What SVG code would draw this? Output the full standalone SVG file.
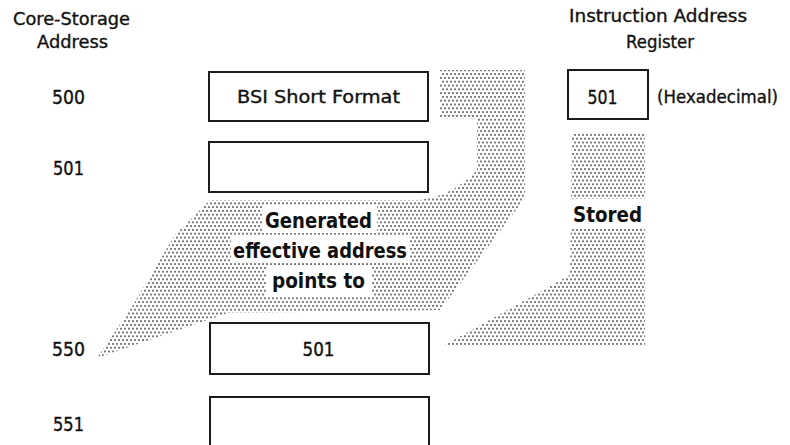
<svg xmlns="http://www.w3.org/2000/svg" width="790" height="445" viewBox="0 0 790 445">
<defs>
<pattern id="dots" patternUnits="userSpaceOnUse" width="4" height="7.6">
<rect x="0.3" y="1.2" width="1.4" height="1.4" fill="#000"/>
<rect x="2.3" y="5" width="1.4" height="1.4" fill="#000"/>
</pattern>
</defs>
<style>
.t{font-family:"DejaVu Sans","Liberation Sans",sans-serif;font-size:17px;fill:#111;stroke:#111;stroke-width:0.35}
.n{font-family:"DejaVu Sans","Liberation Sans",sans-serif;font-size:19.5px;fill:#111;stroke:#111;stroke-width:0.4}
.b{font-family:"DejaVu Sans","Liberation Sans",sans-serif;font-size:21px;font-weight:bold;fill:#111}
.box{fill:#fff;stroke:#111;stroke-width:1.9}
.ko{fill:#fff}
</style>
<rect width="790" height="445" fill="#fff"/>
<g id="connectors">
<path id="generated" d="M440,70 L525,70 L525,198 L440,310 L228,313 L97,358 L133,305 L175,235 L210,200 L420,200 Q455,195 477,170 L477,119 L440,119 Z" fill="url(#dots)"/>
<path id="stored" d="M572,132 L645,132 L645,346 L443,346 L570,275 Z" fill="url(#dots)"/>
<rect class="ko" x="262" y="206" width="115" height="27"/>
<rect class="ko" x="231" y="236" width="179" height="27"/>
<rect class="ko" x="266" y="266" width="106" height="30"/>
<rect class="ko" x="569" y="199" width="78" height="29"/>
<text class="b" x="318.5" y="228" text-anchor="middle" textLength="107" lengthAdjust="spacingAndGlyphs">Generated</text>
<text class="b" x="320" y="258" text-anchor="middle" textLength="174" lengthAdjust="spacingAndGlyphs">effective address</text>
<text class="b" x="318.5" y="288" text-anchor="middle" textLength="93" lengthAdjust="spacingAndGlyphs">points to</text>
<text class="b" x="607.5" y="222" text-anchor="middle" textLength="69" lengthAdjust="spacingAndGlyphs">Stored</text>
</g>
<g id="header-core">
<text class="t" x="71.5" y="25" text-anchor="middle" textLength="117" lengthAdjust="spacingAndGlyphs">Core-Storage</text>
<text class="t" x="72.5" y="48" text-anchor="middle" textLength="71" lengthAdjust="spacingAndGlyphs">Address</text>
</g>
<g id="header-iar">
<text class="t" x="658" y="22" text-anchor="middle" textLength="178" lengthAdjust="spacingAndGlyphs">Instruction Address</text>
<text class="t" x="660" y="48" text-anchor="middle" textLength="68" lengthAdjust="spacingAndGlyphs">Register</text>
</g>
<g id="addr-500"><text class="n" x="68.5" y="104" text-anchor="middle" textLength="33" lengthAdjust="spacingAndGlyphs">500</text></g>
<g id="addr-501"><text class="n" x="68.5" y="175" text-anchor="middle" textLength="31" lengthAdjust="spacingAndGlyphs">501</text></g>
<g id="addr-550"><text class="n" x="68.5" y="356" text-anchor="middle" textLength="33" lengthAdjust="spacingAndGlyphs">550</text></g>
<g id="addr-551"><text class="n" x="68.5" y="431" text-anchor="middle" textLength="31" lengthAdjust="spacingAndGlyphs">551</text></g>
<g id="box-500">
<rect class="box" x="209" y="72" width="219" height="49"/>
<text class="t" x="318.5" y="103" text-anchor="middle" textLength="163" lengthAdjust="spacingAndGlyphs">BSI Short Format</text>
</g>
<g id="box-501">
<rect class="box" x="209" y="142" width="219" height="50"/>
</g>
<g id="box-550">
<rect class="box" x="210" y="323" width="219" height="51"/>
<text class="n" x="318.5" y="356" text-anchor="middle" textLength="32" lengthAdjust="spacingAndGlyphs">501</text>
</g>
<g id="box-551">
<rect class="box" x="210" y="397" width="219" height="52"/>
</g>
<g id="register">
<rect class="box" x="568" y="70" width="80" height="49"/>
<text class="n" x="602.5" y="104" text-anchor="middle" textLength="30" lengthAdjust="spacingAndGlyphs">501</text>
<text class="t" x="657" y="103" textLength="121" lengthAdjust="spacingAndGlyphs">(Hexadecimal)</text>
</g>
</svg>
